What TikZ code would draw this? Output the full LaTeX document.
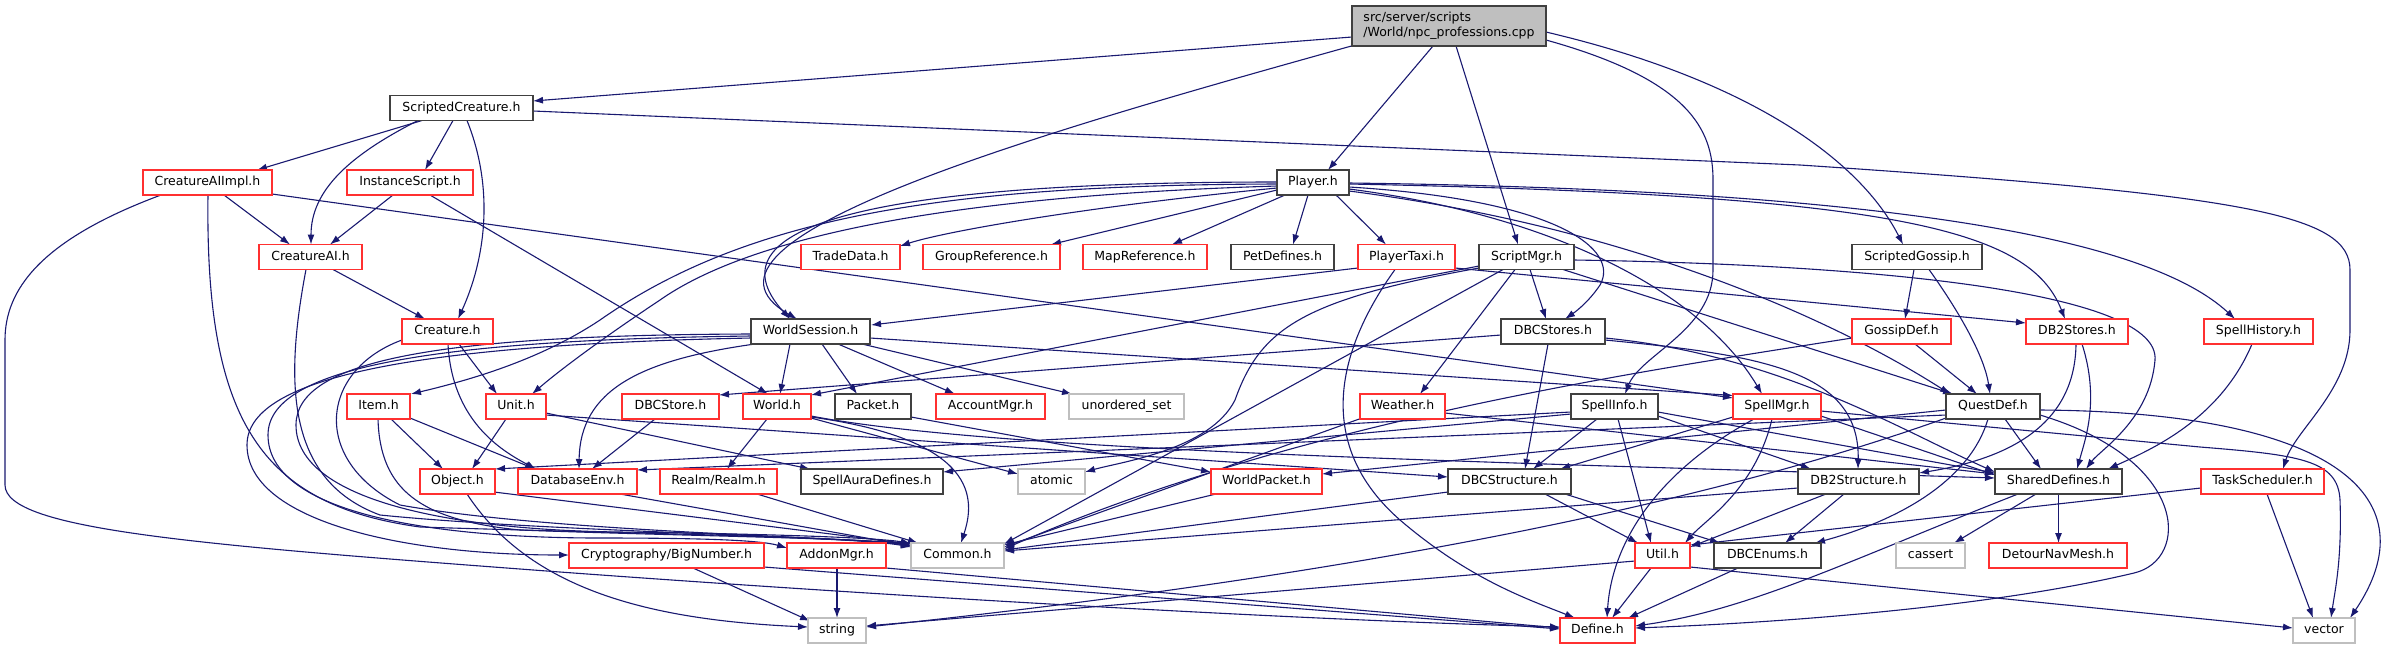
\documentclass[tikz,border=0pt]{standalone}
\usepackage{fontspec}
\setmainfont{DejaVu Sans}
\usetikzlibrary{arrows.meta}
\pgfdeclarelayer{bg}
\pgfsetlayers{bg,main}
\definecolor{eblue}{HTML}{191970}
\definecolor{nred}{HTML}{FF3030}
\definecolor{ndark}{HTML}{404040}
\definecolor{ngray}{HTML}{BFBFBF}
\tikzset{
 nd/.style={rectangle, draw, fill=white, line width=1.2pt, minimum height=25pt, inner sep=0pt, font=\fontsize{12.5}{15}\selectfont},
 txt/.style={text height=9.5pt, text depth=3pt},
 bk/.style={nd, txt, draw=ndark},
 rd/.style={nd, txt, draw=nred},
 gy/.style={nd, txt, draw=ngray},
 ed/.style={draw=eblue, line width=1.1pt, -{Latex[length=10pt,width=7pt]}},
}
\begin{document}
\begin{tikzpicture}[x=1pt,y=-1pt]
\useasboundingbox (0,0) rectangle (2405,649);
% ---------------- nodes ----------------
\node[nd,draw=ndark,fill=ngray,minimum width=194pt,minimum height=40pt,align=left] (root) at (1449,26) {src/server/scripts\\/World/npc\_professions.cpp};
\node[bk,minimum width=143pt] (SC) at (461.5,108) {ScriptedCreature.h};
\node[rd,minimum width=129pt] (CAII) at (207.5,182.5) {CreatureAIImpl.h};
\node[rd,minimum width=126pt] (IS) at (410,182.5) {InstanceScript.h};
\node[bk,minimum width=72pt] (PL) at (1313,182.5) {Player.h};
\node[rd,minimum width=103pt] (CAI) at (310.5,257) {CreatureAI.h};
\node[rd,minimum width=99pt] (TD) at (850.5,257) {TradeData.h};
\node[rd,minimum width=137pt] (GR) at (991.5,257) {GroupReference.h};
\node[rd,minimum width=124pt] (MR) at (1145,257) {MapReference.h};
\node[bk,minimum width=103pt] (PD) at (1282.5,257) {PetDefines.h};
\node[rd,minimum width=97pt] (PT) at (1406.5,257) {PlayerTaxi.h};
\node[bk,minimum width=95pt] (SM) at (1526.5,257) {ScriptMgr.h};
\node[bk,minimum width=130pt] (SG) at (1917,257) {ScriptedGossip.h};
\node[rd,minimum width=91pt] (CR) at (447.5,331.5) {Creature.h};
\node[bk,minimum width=119pt] (WS) at (810.5,331.5) {WorldSession.h};
\node[bk,minimum width=104pt] (DBCS) at (1553,331.5) {DBCStores.h};
\node[rd,minimum width=99pt] (GD) at (1901.5,331.5) {GossipDef.h};
\node[rd,minimum width=102pt] (DBTS) at (2077,331.5) {DB2Stores.h};
\node[rd,minimum width=109pt] (SH) at (2258.5,331.5) {SpellHistory.h};
\node[rd,minimum width=63pt] (IT) at (378.5,406.5) {Item.h};
\node[rd,minimum width=60pt] (UN) at (516,406.5) {Unit.h};
\node[rd,minimum width=97pt] (DBCSt) at (670.5,406.5) {DBCStore.h};
\node[rd,minimum width=68pt] (WO) at (777,406.5) {World.h};
\node[bk,minimum width=76pt] (PK) at (873,406.5) {Packet.h};
\node[rd,minimum width=109pt] (AM) at (990.5,406.5) {AccountMgr.h};
\node[gy,minimum width=115pt] (US) at (1126.5,406.5) {unordered\_set};
\node[rd,minimum width=85pt] (WE) at (1402.5,406.5) {Weather.h};
\node[bk,minimum width=87pt] (SI) at (1614.5,406.5) {SpellInfo.h};
\node[rd,minimum width=88pt] (SPM) at (1777,406.5) {SpellMgr.h};
\node[bk,minimum width=94pt] (QD) at (1993,406.5) {QuestDef.h};
\node[rd,minimum width=75pt] (OB) at (457.5,481.5) {Object.h};
\node[rd,minimum width=119pt] (DE) at (577.5,481.5) {DatabaseEnv.h};
\node[rd,minimum width=117pt] (RR) at (718.5,481.5) {Realm/Realm.h};
\node[bk,minimum width=142pt] (SAD) at (872,481.5) {SpellAuraDefines.h};
\node[gy,minimum width=67pt] (AT) at (1051.5,481.5) {atomic};
\node[rd,minimum width=111pt] (WP) at (1266.5,481.5) {WorldPacket.h};
\node[bk,minimum width=123pt] (DBCSU) at (1509.5,481.5) {DBCStructure.h};
\node[bk,minimum width=121pt] (DBTU) at (1858.5,481.5) {DB2Structure.h};
\node[bk,minimum width=127pt] (SD) at (2058.5,481.5) {SharedDefines.h};
\node[rd,minimum width=123pt] (TS) at (2262.5,481.5) {TaskScheduler.h};
\node[rd,minimum width=195pt] (BN) at (666.5,555.5) {Cryptography/BigNumber.h};
\node[rd,minimum width=99pt] (AD) at (836.5,555.5) {AddonMgr.h};
\node[gy,minimum width=93pt] (CO) at (957.5,555.5) {Common.h};
\node[rd,minimum width=55pt] (UT) at (1662.5,555.5) {Util.h};
\node[bk,minimum width=107pt] (DBCE) at (1767.5,555.5) {DBCEnums.h};
\node[gy,minimum width=69pt] (CA) at (1930.5,555.5) {cassert};
\node[rd,minimum width=138pt] (DNM) at (2058,555.5) {DetourNavMesh.h};
\node[gy,minimum width=58pt] (ST) at (837,630.5) {string};
\node[rd,minimum width=75pt] (DF) at (1597.5,630.5) {Define.h};
\node[gy,minimum width=62pt] (VE) at (2324,630.5) {vector};
% ---------------- edges ----------------
\begin{pgfonlayer}{bg}
% root
\draw[ed] ([shift={(-97,11)}]root.center) -- ([shift={(71.5,-7)}]SC.center);
\draw[ed] ([shift={(-94,19)}]root.center) .. controls (1050,130) and (660,240) .. ([shift={(-13.5,-12.5)}]WS.center);
\draw[ed] ([shift={(-16,20)}]root.center) -- ([shift={(15,-12.5)}]PL.center);
\draw[ed] ([shift={(7,20)}]root.center) -- ([shift={(-8.5,-12.5)}]SM.center);
\draw[ed] ([shift={(97,14)}]root.center) .. controls (1690,80) and (1713,130) .. (1713,180) -- (1713,270) .. controls (1713,330) and (1640,355) .. ([shift={(10.5,-12.5)}]SI.center);
\draw[ed] ([shift={(97,6)}]root.center) .. controls (1750,80) and (1860,160) .. ([shift={(-14,-12.5)}]SG.center);
% ScriptedCreature
\draw[ed] ([shift={(-39.5,12.5)}]SC.center) -- ([shift={(49.5,-12.5)}]CAII.center);
\draw[ed] ([shift={(-43.5,12.5)}]SC.center) .. controls (350,155) and (311,190) .. ([shift={(0.5,-12.5)}]CAI.center);
\draw[ed] ([shift={(-8.5,12.5)}]SC.center) -- ([shift={(15,-12.5)}]IS.center);
\draw[ed] ([shift={(5.5,12.5)}]SC.center) .. controls (495,190) and (485,260) .. ([shift={(10.5,-12.5)}]CR.center);
\draw[ed] ([shift={(71.5,3)}]SC.center) -- (1800,165) .. controls (2250,195) and (2350,215) .. (2350,270) -- (2350,330) .. controls (2350,390) and (2295,430) .. ([shift={(20.5,-12.5)}]TS.center);
% CreatureAIImpl
\draw[ed] ([shift={(16.5,12.5)}]CAII.center) -- ([shift={(-20.5,-12.5)}]CAI.center);
\draw[ed] ([shift={(64.5,11.5)}]CAII.center) -- ([shift={(-44,-8.5)}]SPM.center);
\draw[ed] ([shift={(0.5,12.5)}]CAII.center) .. controls (205,420) and (260,505) .. (420,527) .. controls (600,533) and (850,536) .. ([shift={(-46.5,-8.5)}]CO.center);
\draw[ed] ([shift={(-46.5,12.5)}]CAII.center) .. controls (40,240) and (5,290) .. (5,340) -- (5,485) .. controls (5,530) and (200,545) .. (560,572) .. controls (900,597) and (1300,620) .. ([shift={(-37.5,-3.5)}]DF.center);
% InstanceScript
\draw[ed] ([shift={(-17,12.5)}]IS.center) -- ([shift={(19.5,-12.5)}]CAI.center);
\draw[ed] ([shift={(20,12.5)}]IS.center) -- ([shift={(-9,-12.5)}]WO.center);
% CreatureAI
\draw[ed] ([shift={(22.5,12.5)}]CAI.center) -- ([shift={(-22.5,-12.5)}]CR.center);
\draw[ed] ([shift={(-4.5,12.5)}]CAI.center) .. controls (285,380) and (285,480) .. (380,515) .. controls (550,532) and (850,536) .. ([shift={(-46.5,-9.5)}]CO.center);
% Creature
\draw[ed] ([shift={(11.5,12.5)}]CR.center) -- ([shift={(-19,-12.5)}]UN.center);
\draw[ed] ([shift={(0.5,12.5)}]CR.center) .. controls (452,420) and (500,450) .. ([shift={(-41.5,-12.5)}]DE.center);
\draw[ed] ([shift={(-45.5,8.5)}]CR.center) .. controls (320,370) and (310,460) .. (400,505) .. controls (550,532) and (850,537) .. ([shift={(-46.5,-10.5)}]CO.center);
% Item
\draw[ed] ([shift={(12.5,12.5)}]IT.center) -- ([shift={(-14.5,-12.5)}]OB.center);
\draw[ed] ([shift={(31.5,11.5)}]IT.center) -- ([shift={(-42.5,-12.5)}]DE.center);
\draw[ed] ([shift={(-0.5,12.5)}]IT.center) .. controls (380,490) and (420,520) .. (520,530) .. controls (650,535) and (850,538) .. ([shift={(-46.5,-11.5)}]CO.center);
% Unit
\draw[ed] ([shift={(-10,12.5)}]UN.center) -- ([shift={(14.5,-12.5)}]OB.center);
\draw[ed] ([shift={(30,6.5)}]UN.center) -- ([shift={(-62,-12.5)}]SAD.center);
\draw[ed] ([shift={(30,8.5)}]UN.center) -- ([shift={(-61.5,-4.5)}]DBCSU.center);
% Object
\draw[ed] ([shift={(36.5,10.5)}]OB.center) -- ([shift={(-46.5,-11.5)}]CO.center);
\draw[ed] ([shift={(9.5,12.5)}]OB.center) .. controls (530,590) and (650,620) .. ([shift={(-29,-3.5)}]ST.center);
% DatabaseEnv, DBCStore, World, Realm
\draw[ed] ([shift={(42.5,12.5)}]DE.center) -- ([shift={(-46.5,-9.5)}]CO.center);
\draw[ed] ([shift={(-15.5,12.5)}]DBCSt.center) -- ([shift={(14.5,-12.5)}]DE.center);
\draw[ed] ([shift={(-10,12.5)}]WO.center) -- ([shift={(8.5,-12.5)}]RR.center);
\draw[ed] ([shift={(34,10.5)}]WO.center) .. controls (980,440) and (975,500) .. ([shift={(3.5,-12.5)}]CO.center);
\draw[ed] ([shift={(34,11.5)}]WO.center) -- ([shift={(-33.5,-7.5)}]AT.center);
\draw[ed] ([shift={(34,9.5)}]WO.center) .. controls (1000,452) and (1500,462) .. ([shift={(-63.5,-3.5)}]SD.center);
\draw[ed] ([shift={(38.5,12.5)}]RR.center) -- ([shift={(-39.5,-12.5)}]CO.center);
% WorldSession
\draw[ed] ([shift={(-20.5,12.5)}]WS.center) -- ([shift={(3,-12.5)}]WO.center);
\draw[ed] ([shift={(11.5,12.5)}]WS.center) -- ([shift={(-16,-12.5)}]PK.center);
\draw[ed] ([shift={(27.5,12.5)}]WS.center) -- ([shift={(-35.5,-12.5)}]AM.center);
\draw[ed] ([shift={(51.5,12.5)}]WS.center) -- ([shift={(-54.5,-12.5)}]US.center);
\draw[ed] ([shift={(-55.5,12.5)}]WS.center) .. controls (640,360) and (580,390) .. ([shift={(1.5,-12.5)}]DE.center);
\draw[ed] ([shift={(59.5,6.5)}]WS.center) -- ([shift={(-44,-11)}]SPM.center);
\draw[ed] ([shift={(-59.5,6.5)}]WS.center) .. controls (400,345) and (247,380) .. (247,445) .. controls (247,520) and (400,555) .. ([shift={(-97.5,-0.5)}]BN.center);
\draw[ed] ([shift={(-59.5,4.5)}]WS.center) .. controls (420,340) and (268,370) .. (268,435) .. controls (268,510) and (420,538) .. (600,538) .. controls (700,538) and (760,540) .. ([shift={(-49.5,-7.5)}]AD.center);
\draw[ed] ([shift={(-59.5,2.5)}]WS.center) .. controls (440,335) and (296,360) .. (296,425) .. controls (296,500) and (450,530) .. (620,532) .. controls (780,534) and (880,538) .. ([shift={(-46.5,-12)}]CO.center);
% Packet, AddonMgr, BigNumber
\draw[ed] ([shift={(38,10.5)}]PK.center) -- ([shift={(-55.5,-9.5)}]WP.center);
\draw[ed] ([shift={(0.5,12.5)}]AD.center) -- ([shift={(0,-12.5)}]ST.center);
\draw[ed] ([shift={(49.5,12.5)}]AD.center) -- ([shift={(-37.5,-2.5)}]DF.center);
\draw[ed] ([shift={(26.5,12.5)}]BN.center) -- ([shift={(-27,-9.5)}]ST.center);
\draw[ed] ([shift={(97.5,11.5)}]BN.center) -- ([shift={(-37.5,-1.5)}]DF.center);
% Player
\draw[ed] ([shift={(-36,5.5)}]PL.center) .. controls (1100,205) and (950,230) .. ([shift={(49.5,-11)}]TD.center);
\draw[ed] ([shift={(-36,7.5)}]PL.center) -- ([shift={(59.5,-12.5)}]GR.center);
\draw[ed] ([shift={(-28,12.5)}]PL.center) -- ([shift={(27,-12.5)}]MR.center);
\draw[ed] ([shift={(-5,12.5)}]PL.center) -- ([shift={(10.5,-12.5)}]PD.center);
\draw[ed] ([shift={(23,12.5)}]PL.center) -- ([shift={(-20.5,-12.5)}]PT.center);
\draw[ed] ([shift={(-36,-0.5)}]PL.center) .. controls (900,182) and (700,220) .. ([shift={(-20.5,-12.5)}]WS.center);
\draw[ed] ([shift={(-36,1.5)}]PL.center) .. controls (950,185) and (750,215) .. (600,320) .. controls (540,360) and (470,380) .. ([shift={(32.5,-12.5)}]IT.center);
\draw[ed] ([shift={(-36,3.5)}]PL.center) .. controls (980,195) and (760,230) .. (660,300) .. controls (600,340) and (560,370) .. ([shift={(16,-12.5)}]UN.center);
\draw[ed] ([shift={(36,4.5)}]PL.center) .. controls (1560,200) and (1620,250) .. (1600,285) .. controls (1590,300) and (1578,310) .. ([shift={(12,-12.5)}]DBCS.center);
\draw[ed] ([shift={(36,6.5)}]PL.center) .. controls (1550,215) and (1700,290) .. ([shift={(-15,-12.5)}]SPM.center);
\draw[ed] ([shift={(36,8.5)}]PL.center) .. controls (1650,230) and (1850,330) .. ([shift={(-43,-12.5)}]QD.center);
\draw[ed] ([shift={(36,1.5)}]PL.center) .. controls (1900,195) and (2030,230) .. ([shift={(-12,-12.5)}]DBTS.center);
\draw[ed] ([shift={(36,0.5)}]PL.center) .. controls (1900,190) and (2150,240) .. ([shift={(-23.5,-12.5)}]SH.center);
% PlayerTaxi
\draw[ed] ([shift={(-48.5,11)}]PT.center) -- ([shift={(60.5,-6.5)}]WS.center);
\draw[ed] ([shift={(-11.5,12.5)}]PT.center) .. controls (1330,360) and (1320,450) .. (1400,520) .. controls (1470,580) and (1530,600) .. ([shift={(-22.5,-12.5)}]DF.center);
\draw[ed] ([shift={(48.5,11)}]PT.center) -- ([shift={(-51,-8.5)}]DBTS.center);
% ScriptMgr
\draw[ed] ([shift={(-47.5,9)}]SM.center) -- ([shift={(34,-11.5)}]WO.center);
\draw[ed] ([shift={(-47.5,11)}]SM.center) .. controls (1300,300) and (1260,330) .. (1235,400) .. controls (1210,450) and (1120,462) .. ([shift={(33.5,-9.5)}]AT.center);
\draw[ed] ([shift={(-23.5,12.5)}]SM.center) -- ([shift={(46.5,-11.5)}]CO.center);
\draw[ed] ([shift={(-11.5,12.5)}]SM.center) -- ([shift={(17.5,-12.5)}]WE.center);
\draw[ed] ([shift={(3.5,12.5)}]SM.center) -- ([shift={(-7,-12.5)}]DBCS.center);
\draw[ed] ([shift={(36.5,12.5)}]SM.center) -- ([shift={(-40,-12.5)}]QD.center);
\draw[ed] ([shift={(47.5,3)}]SM.center) .. controls (1900,265) and (2160,295) .. (2155,360) .. controls (2150,420) and (2100,450) .. ([shift={(27.5,-12.5)}]SD.center);
% DBCStores
\draw[ed] ([shift={(-52,3.5)}]DBCS.center) -- ([shift={(48.5,-11.5)}]DBCSt.center);
\draw[ed] ([shift={(-5,12.5)}]DBCS.center) -- ([shift={(15.5,-12.5)}]DBCSU.center);
\draw[ed] ([shift={(52,6.5)}]DBCS.center) .. controls (1780,355) and (1900,430) .. ([shift={(-63.5,-9.5)}]SD.center);
\draw[ed] ([shift={(52,8.5)}]DBCS.center) .. controls (1760,355) and (1860,370) .. ([shift={(-0.5,-12.5)}]DBTU.center);
% ScriptedGossip, GossipDef
\draw[ed] ([shift={(-3,12.5)}]SG.center) -- ([shift={(3.5,-12.5)}]GD.center);
\draw[ed] ([shift={(12,12.5)}]SG.center) .. controls (1965,320) and (1985,360) .. ([shift={(-3,-12.5)}]QD.center);
\draw[ed] ([shift={(13.5,12.5)}]GD.center) -- ([shift={(-16,-12.5)}]QD.center);
\draw[ed] ([shift={(-49.5,6.5)}]GD.center) .. controls (1650,370) and (1300,420) .. ([shift={(46.5,-6.5)}]CO.center);
% DB2Stores, SpellHistory
\draw[ed] ([shift={(-1,12.5)}]DBTS.center) .. controls (2075,430) and (2000,460) .. ([shift={(60.5,-8.5)}]DBTU.center);
\draw[ed] ([shift={(5,12.5)}]DBTS.center) .. controls (2100,400) and (2085,440) .. ([shift={(18.5,-12.5)}]SD.center);
\draw[ed] ([shift={(-6.5,12.5)}]SH.center) .. controls (2220,420) and (2150,450) .. ([shift={(49.5,-12.5)}]SD.center);
% Weather
\draw[ed] ([shift={(-40.5,11.5)}]WE.center) -- ([shift={(46.5,-8.5)}]CO.center);
\draw[ed] ([shift={(42.5,6.5)}]WE.center) -- ([shift={(-63.5,-7.5)}]SD.center);
% SpellInfo
\draw[ed] ([shift={(-43.5,5.5)}]SI.center) -- ([shift={(37.5,-12.5)}]OB.center);
\draw[ed] ([shift={(-43.5,7.5)}]SI.center) -- ([shift={(71,-9.5)}]SAD.center);
\draw[ed] ([shift={(-17.5,12.5)}]SI.center) -- ([shift={(23.5,-12.5)}]DBCSU.center);
\draw[ed] ([shift={(3.5,12.5)}]SI.center) -- ([shift={(-11.5,-12.5)}]UT.center);
\draw[ed] ([shift={(43.5,5.5)}]SI.center) -- ([shift={(-63.5,-8.5)}]SD.center);
\draw[ed] ([shift={(43.5,9.5)}]SI.center) -- ([shift={(-47.5,-12.5)}]DBTU.center);
% SpellMgr
\draw[ed] ([shift={(-5,12.5)}]SPM.center) .. controls (1755,490) and (1705,520) .. ([shift={(22.5,-12.5)}]UT.center);
\draw[ed] ([shift={(-23,12.5)}]SPM.center) .. controls (1660,470) and (1612,540) .. ([shift={(9.5,-12.5)}]DF.center);
\draw[ed] ([shift={(-44,10.5)}]SPM.center) -- ([shift={(50.5,-12.5)}]DBCSU.center);
\draw[ed] ([shift={(44,9.5)}]SPM.center) -- ([shift={(-63.5,-6.5)}]SD.center);
\draw[ed] ([shift={(44,4.5)}]SPM.center) -- (2200,447) .. controls (2300,455) and (2338,460) .. (2340,500) .. controls (2342,560) and (2335,590) .. ([shift={(7,-12.5)}]VE.center);
% QuestDef
\draw[ed] ([shift={(-47,8.5)}]QD.center) -- ([shift={(59.5,-11.5)}]DE.center);
\draw[ed] ([shift={(-47,3.5)}]QD.center) -- ([shift={(55.5,-7.5)}]WP.center);
\draw[ed] ([shift={(-47,11.5)}]QD.center) .. controls (1800,470) and (1500,560) .. ([shift={(29,-3.5)}]ST.center);
\draw[ed] ([shift={(-5,12.5)}]QD.center) .. controls (1970,480) and (1900,520) .. ([shift={(47.5,-12.5)}]DBCE.center);
\draw[ed] ([shift={(12,12.5)}]QD.center) -- ([shift={(-17.5,-12.5)}]SD.center);
\draw[ed] ([shift={(47,8.5)}]QD.center) .. controls (2190,460) and (2190,560) .. (2134,573) .. controls (2000,605) and (1800,622) .. ([shift={(37.5,-2.5)}]DF.center);
\draw[ed] ([shift={(47,3.5)}]QD.center) .. controls (2340,412) and (2430,500) .. ([shift={(26,-12.5)}]VE.center);
% DB2Structure
\draw[ed] ([shift={(-60.5,6.5)}]DBTU.center) -- ([shift={(46.5,-4.5)}]CO.center);
\draw[ed] ([shift={(-32.5,12.5)}]DBTU.center) -- ([shift={(27.5,-8.5)}]UT.center);
\draw[ed] ([shift={(-14.5,12.5)}]DBTU.center) -- ([shift={(17.5,-12.5)}]DBCE.center);
% DBCStructure
\draw[ed] ([shift={(-61.5,10.5)}]DBCSU.center) -- ([shift={(46.5,-5.5)}]CO.center);
\draw[ed] ([shift={(35.5,12.5)}]DBCSU.center) -- ([shift={(-24.5,-12.5)}]UT.center);
\draw[ed] ([shift={(55.5,12.5)}]DBCSU.center) -- ([shift={(-47.5,-12.5)}]DBCE.center);
% WorldPacket
\draw[ed] ([shift={(-50.5,12.5)}]WP.center) -- ([shift={(46.5,-10.5)}]CO.center);
% SharedDefines
\draw[ed] ([shift={(0,12.5)}]SD.center) -- ([shift={(0.5,-12.5)}]DNM.center);
\draw[ed] ([shift={(-22.5,12.5)}]SD.center) -- ([shift={(23.5,-12.5)}]CA.center);
\draw[ed] ([shift={(-40.5,12.5)}]SD.center) .. controls (1850,560) and (1750,610) .. ([shift={(37.5,-4.5)}]DF.center);
% TaskScheduler
\draw[ed] ([shift={(-61.5,6.5)}]TS.center) -- ([shift={(27.5,-10.5)}]UT.center);
\draw[ed] ([shift={(4.5,12.5)}]TS.center) -- ([shift={(-11,-12.5)}]VE.center);
% Util, DBCEnums
\draw[ed] ([shift={(-11.5,12.5)}]UT.center) -- ([shift={(14.5,-12.5)}]DF.center);
\draw[ed] ([shift={(-27.5,5.5)}]UT.center) -- ([shift={(29,-4.5)}]ST.center);
\draw[ed] ([shift={(27.5,11.5)}]UT.center) -- ([shift={(-31,-2.5)}]VE.center);
\draw[ed] ([shift={(-29.5,12.5)}]DBCE.center) -- ([shift={(30.5,-12.5)}]DF.center);
\end{pgfonlayer}
\end{tikzpicture}
\end{document}
